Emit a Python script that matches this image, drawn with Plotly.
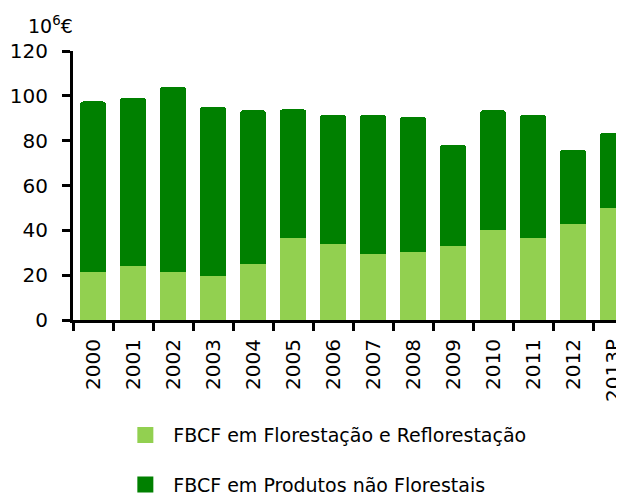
"""Stacked bar chart: FBCF em floresta (10^6 EUR)."""

import plotly.graph_objects as go

years = ['2000', '2001', '2002', '2003', '2004', '2005', '2006',
         '2007', '2008', '2009', '2010', '2011', '2012', '2013P']

# FBCF em Florestação e Reflorestação
reflorestacao = [21.5, 24.0, 21.5, 19.5, 25.0, 36.5, 34.0,
                 29.5, 30.5, 33.0, 40.0, 36.5, 43.0, 50.0]
# FBCF em Produtos não Florestais
nao_florestais = [76.0, 75.0, 82.5, 75.5, 68.5, 57.5, 57.5,
                  62.0, 60.0, 45.0, 53.5, 55.0, 33.0, 33.5]

LIGHT = '#92D050'
DARK = '#008000'
FONT = 'DejaVu Sans'
PAD = '\u00a0\u200a'  # pushes legend text away from the symbol

fig = go.Figure()
fig.add_trace(go.Bar(
    x=years, y=reflorestacao,
    marker=dict(color=LIGHT, line=dict(width=0)),
    showlegend=False
))
fig.add_trace(go.Bar(
    x=years, y=nao_florestais,
    marker=dict(color=DARK, line=dict(width=0), cornerradius=3),
    showlegend=False
))

# legend entries with bigger square symbols
fig.add_trace(go.Scatter(
    x=[None], y=[None], mode='markers',
    marker=dict(symbol='square', size=16, color=LIGHT),
    name=PAD + 'FBCF em Florestação e Reflorestação', legendgroup='a'
))
fig.add_trace(go.Scatter(
    x=[None], y=[None], mode='markers',
    marker=dict(symbol='square', size=16, color=DARK),
    name=PAD + 'FBCF em Produtos não Florestais', legendgroup='b'
))

fig.add_annotation(
    text='10<sup>6</sup>€', xref='paper', yref='paper',
    x=-0.085, y=1.15, xanchor='left', yanchor='top',
    showarrow=False, font=dict(size=19, color='black', family=FONT)
)

# the page body adds an 8px offset, so the figure is 8px smaller than the window
fig.update_layout(
    barmode='stack',
    bargap=0.35,
    width=616, height=489,
    margin=dict(l=65, r=0, t=43, b=177, autoexpand=False),
    plot_bgcolor='white',
    paper_bgcolor='white',
    font=dict(family=FONT, color='black'),
    legend=dict(
        x=0.095, y=-0.357, xanchor='left', yanchor='top',
        font=dict(size=19), tracegroupgap=22,
        bgcolor='rgba(0,0,0,0)'
    ),
    xaxis=dict(
        type='category',
        range=[-0.5, 13.275],
        automargin=False,
        showline=True, linecolor='black', linewidth=3,
        ticks='outside', tickson='boundaries', ticklen=8,
        tickwidth=3, tickcolor='black',
        tickangle=-90, tickfont=dict(size=20), ticklabelstandoff=8,
        showgrid=False
    ),
    yaxis=dict(
        range=[0, 120], dtick=20,
        automargin=False,
        showline=True, linecolor='black', linewidth=3,
        ticks='outside', ticklen=8, tickwidth=3, tickcolor='black',
        tickfont=dict(size=20), ticklabelstandoff=10,
        showgrid=False, zeroline=False
    )
)

fig.write_html("out.html")
